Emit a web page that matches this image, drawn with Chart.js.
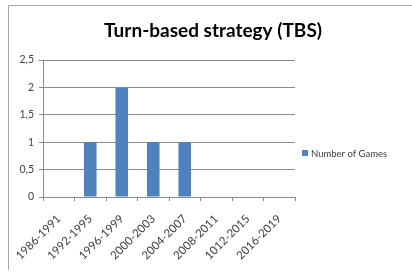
<!DOCTYPE html>
<html>
<head>
<meta charset="utf-8">
<script src="https://cdn.jsdelivr.net/npm/chart.js@4.4.1/dist/chart.umd.min.js"></script>
<style>
  html, body { margin: 0; padding: 0; background: #ffffff; }
  #wrap { width: 412px; height: 275px; }
</style>
</head>
<body>
<div id="wrap"><canvas id="chart" width="412" height="275"></canvas></div>
<script>
"use strict";

// Chart data
var periods = ['1986-1991', '1992-1995', '1996-1999', '2000-2003', '2004-2007', '2008-2011', '1012-2015', '2016-2019'];
var gameCounts = [0, 1, 2, 1, 1, 0, 0, 0];
var yTicks = [0, 0.5, 1, 1.5, 2, 2.5];
var seriesName = 'Number of Games';
var chartTitle = 'Turn-based strategy (TBS)';

var barColor = '#4F81BD';
var lineColor = '#8c8c8c';
var textColor = '#404040';

// Frame lines, the title (centred on the whole chart) and the legend on the right
var decorPlugin = {
    id: 'decor',
    afterDraw: function (chart) {
        var ctx = chart.ctx;
        ctx.save();
        ctx.strokeStyle = '#a6a6a6';
        ctx.lineWidth = 1;
        ctx.beginPath();
        ctx.moveTo(8.5, 270);
        ctx.lineTo(8.5, 5.5);
        ctx.lineTo(412, 5.5);
        ctx.stroke();

        // title
        ctx.fillStyle = '#000000';
        ctx.font = 'bold 19px Lato';
        ctx.textAlign = 'center';
        ctx.textBaseline = 'middle';
        ctx.fillText(chartTitle, 213, 31);

        // legend
        var lx = chart.chartArea.right + 7;
        var ly = 153;
        ctx.fillStyle = barColor;
        ctx.fillRect(lx, ly - 3, 6, 6);
        ctx.fillStyle = textColor;
        ctx.font = '9.5px Lato';
        ctx.textAlign = 'left';
        ctx.fillText(seriesName, lx + 9, ly + 0.5);
        ctx.restore();
    }
};

var ctx = document.getElementById('chart').getContext('2d');
new Chart(ctx, {
    type: 'bar',
    data: {
        labels: periods,
        datasets: [{
            label: seriesName,
            data: gameCounts,
            backgroundColor: barColor,
            borderWidth: 0,
            barPercentage: 1,
            categoryPercentage: 0.4
        }]
    },
    options: {
        responsive: false,
        animation: false,
        layout: {
            padding: { left: 8, right: 117, top: 60, bottom: 0 }
        },
        scales: {
            x: {
                grid: {
                    drawOnChartArea: false,
                    offset: true,
                    tickLength: 4,
                    color: lineColor
                },
                border: { color: lineColor },
                ticks: {
                    color: textColor,
                    font: { family: 'Lato', size: 11.5 },
                    minRotation: 45,
                    maxRotation: 45,
                    padding: 11
                },
                afterFit: function (scale) { scale.height = 78; }
            },
            y: {
                min: 0,
                max: 2.5,
                afterBuildTicks: function (scale) {
                    scale.ticks = yTicks.map(function (v) { return { value: v }; });
                },
                grid: {
                    color: lineColor,
                    tickLength: 4
                },
                border: { color: lineColor },
                ticks: {
                    color: textColor,
                    font: { family: 'Lato', size: 10.5 },
                    padding: 5,
                    callback: function (v) { return String(v).replace('.', ','); }
                },
                afterFit: function (scale) { scale.width = 35; }
            }
        },
        plugins: {
            legend: { display: false },
            tooltip: { enabled: false },
            title: { display: false }
        }
    },
    plugins: [decorPlugin]
});
</script>
</body>
</html>
